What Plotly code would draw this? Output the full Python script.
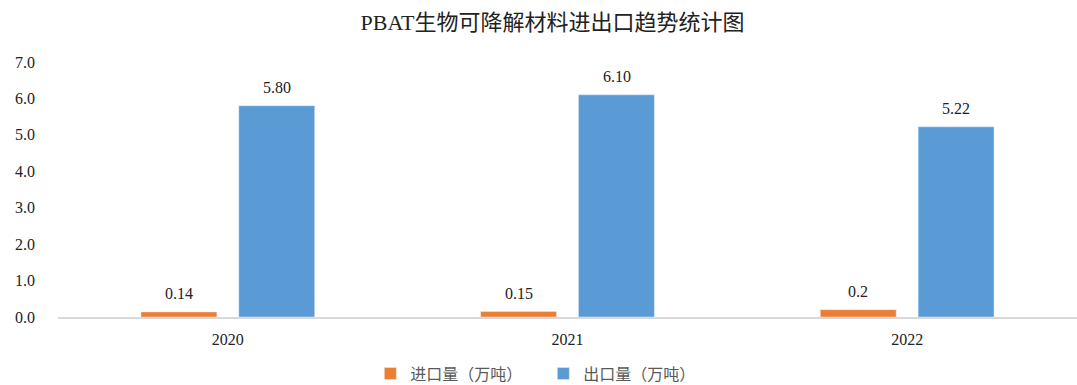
import plotly.graph_objects as go

years = [2020, 2021, 2022]
import_vals = [0.14, 0.15, 0.2]
export_vals = [5.80, 6.10, 5.22]
import_labels = ["0.14", "0.15", "0.2"]
export_labels = ["5.80", "6.10", "5.22"]
y_ticks = [0, 1, 2, 3, 4, 5, 6, 7]

SERIF = "Liberation Serif, Times New Roman, Noto Sans CJK SC, serif"
CJK = "Noto Sans CJK SC, sans-serif"
ORANGE = "#ED7D31"
BLUE = "#5B9BD5"

fig = go.Figure()
fig.add_trace(go.Bar(x=years, y=import_vals, name="进口量（万吨）",
                     marker=dict(color=ORANGE)))
fig.add_trace(go.Bar(x=years, y=export_vals, name="出口量（万吨）",
                     marker=dict(color=BLUE)))

# value labels above each bar
for yr, v, lab in zip(years, import_vals, import_labels):
    fig.add_annotation(x=yr, y=v, text=lab, showarrow=False, xshift=-49,
                       yanchor="bottom", yshift=8,
                       font=dict(family=SERIF, size=16, color="#222"))
for yr, v, lab in zip(years, export_vals, export_labels):
    fig.add_annotation(x=yr, y=v, text=lab, showarrow=False, xshift=49,
                       yanchor="bottom", yshift=8,
                       font=dict(family=SERIF, size=16, color="#222"))

fig.update_layout(
    width=1077, height=385,
    margin=dict(l=58, r=0, t=62, b=68, autoexpand=False),
    paper_bgcolor="white", plot_bgcolor="white",
    barmode="group", bargap=0.424, bargroupgap=0.224,
    title=dict(text="PBAT生物可降解材料进出口趋势统计图", x=0.513, xanchor="center",
               y=1 - 22 / 385, yanchor="middle",
               font=dict(family=SERIF, size=22, color="#222")),
    legend=dict(orientation="h", x=0.3065, xanchor="left", y=-0.222, yanchor="middle",
                font=dict(family=CJK, size=16, color="#595959"),
                itemwidth=30, entrywidth=128, entrywidthmode="pixels",
                traceorder="normal"),
    xaxis=dict(range=[years[0] - 0.5, years[-1] + 0.5], tickvals=years, tickformat="d",
               showgrid=False, showline=True, linecolor="#D9D9D9", zeroline=False,
               linewidth=1.5, ticks="", ticklabelstandoff=7,
               tickfont=dict(family=SERIF, size=16, color="#222")),
    yaxis=dict(range=[0, 7], tickvals=y_ticks, tickformat=".1f", showgrid=False,
               showline=False, zeroline=False, ticks="", ticklabelstandoff=22,
               tickfont=dict(family=SERIF, size=16, color="#222")),
)

fig.write_html("out.html")
